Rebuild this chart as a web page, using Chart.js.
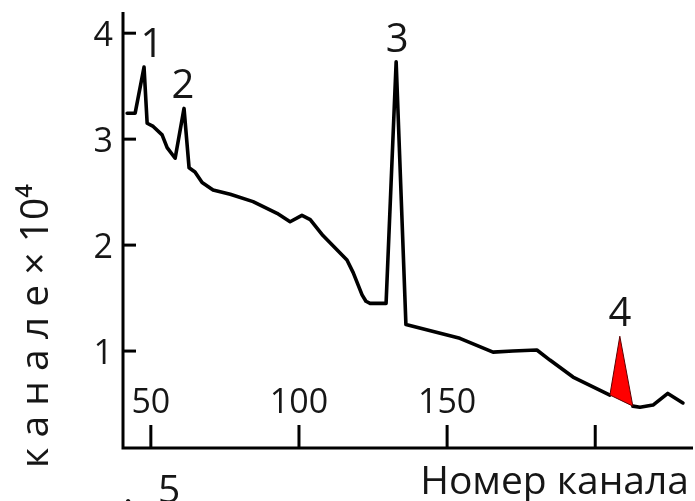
<!DOCTYPE html>
<html>
<head>
<meta charset="utf-8">
<script src="https://cdn.jsdelivr.net/npm/chart.js@4/dist/chart.umd.min.js"></script>
<style>
  html, body { margin: 0; padding: 0; background: #fff; }
  canvas { display: block; }
</style>
</head>
<body>
<canvas id="grafico" width="695" height="501"></canvas>
<script>
// ====================================================================
// DATOS DEL ESPECTRO
// ====================================================================

// Curva principal: numero de canal / cuentas (x 10^4)
const canales = [42.0, 44.7, 47.7, 48.75, 50.8, 53.8, 55.5, 58.2, 61.2, 62.9,
                 64.9, 67.3, 71.0, 76.8, 84.5, 92.6, 97.0, 101.0, 103.8, 108.1,
                 116.2, 118.3, 121.3, 122.6, 124.0, 129.4, 132.8, 136.1, 154.3, 165.5, 172.2,
                 180.3, 184.7, 192.5, 204.95, 212.7, 215.1, 219.5, 224.5, 229.6];
const cuentas = [3.245, 3.245, 3.68, 3.15, 3.12, 3.04, 2.92, 2.82, 3.29, 2.73,
                 2.69, 2.59, 2.52, 2.48, 2.41, 2.30, 2.22, 2.28, 2.24, 2.09,
                 1.86, 1.74, 1.53, 1.47, 1.45, 1.45, 3.73, 1.25, 1.12, 0.99, 1.00,
                 1.01, 0.915, 0.755, 0.585, 0.48, 0.47, 0.49, 0.60, 0.51];

// Pico 4 (triangulo rojo)
const pico4Canales = [204.95, 208.3, 212.7, 204.95];
const pico4Cuentas = [0.585, 1.14, 0.48, 0.585];

// Etiquetas de los picos
const etiquetasPico = ['1', '2', '3', '4'];
const picoCanal = [47.7, 61.2, 132.8, 208.3];
const picoCuentas = [3.68, 3.29, 3.73, 1.14];

// Marcas de los ejes
const ticksX = [50, 100, 150, 200];
const etiquetasX = ['50', '100', '150', ''];
const ticksY = [1, 2, 3, 4];
const etiquetasY = ['1', '2', '3', '4'];

const tituloY = 'к а н а л е × 10⁴';
const tituloX = 'Номер канала';

// ====================================================================
// PLUGIN: ejes con marcas hacia dentro, textos y etiquetas de picos
// ====================================================================
const FUENTE = '"Open Sans", "DejaVu Sans", sans-serif';
const COLOR_TEXTO = '#161616';

const pluginEjes = {
    id: 'ejes',
    afterDraw(chart) {
        const ctx = chart.ctx;
        const area = chart.chartArea;
        const sx = chart.scales.x;
        const sy = chart.scales.y;

        ctx.save();
        ctx.strokeStyle = '#000';
        ctx.lineWidth = 3;
        ctx.lineCap = 'butt';

        // Lineas de los ejes
        ctx.beginPath();
        ctx.moveTo(area.left, area.top);
        ctx.lineTo(area.left, area.bottom);
        ctx.lineTo(area.right, area.bottom);
        ctx.stroke();

        // Marcas del eje Y (hacia la derecha)
        ticksY.forEach(v => {
            const y = sy.getPixelForValue(v);
            ctx.beginPath();
            ctx.moveTo(area.left, y);
            ctx.lineTo(area.left + 13, y);
            ctx.stroke();
        });

        // Marcas del eje X (hacia arriba)
        ticksX.forEach(v => {
            const x = sx.getPixelForValue(v);
            ctx.beginPath();
            ctx.moveTo(x, area.bottom);
            ctx.lineTo(x, area.bottom - 23);
            ctx.stroke();
        });

        ctx.fillStyle = COLOR_TEXTO;
        ctx.textBaseline = 'alphabetic';

        // Etiquetas del eje Y
        ctx.font = '34px ' + FUENTE;
        ctx.textAlign = 'right';
        ticksY.forEach((v, i) => {
            ctx.fillText(etiquetasY[i], area.left - 10, sy.getPixelForValue(v) + 13);
        });

        // Etiquetas del eje X (dentro del grafico, sobre las marcas)
        ctx.textAlign = 'center';
        ticksX.forEach((v, i) => {
            ctx.fillText(etiquetasX[i], sx.getPixelForValue(v), area.bottom - 35);
        });

        // Etiquetas de los picos
        ctx.font = '40px ' + FUENTE;
        const dx = [8, -1, 1, 0];
        etiquetasPico.forEach((t, i) => {
            ctx.fillText(t, sx.getPixelForValue(picoCanal[i]) + dx[i], sy.getPixelForValue(picoCuentas[i]) - 10);
        });

        // Titulo del eje X
        ctx.font = '39px ' + FUENTE;
        ctx.textAlign = 'right';
        ctx.fillText(tituloX, 689, 494);

        // Texto cortado en el borde inferior
        ctx.textAlign = 'left';
        ctx.fillText('.', 123, 504);
        ctx.fillText('5', 158, 503);

        // Titulo del eje Y (rotado)
        ctx.save();
        ctx.translate(48, 326);
        ctx.rotate(-Math.PI / 2);
        ctx.textAlign = 'center';
        ctx.fillText(tituloY, 0, 0);
        ctx.restore();

        ctx.restore();
    }
};

// ====================================================================
// GRAFICO
// ====================================================================
const idxHueco = canales.indexOf(204.95);

const ctx = document.getElementById('grafico').getContext('2d');
new Chart(ctx, {
    type: 'scatter',
    data: {
        datasets: [{
            label: 'pico 4',
            data: pico4Canales.map((c, i) => ({ x: c, y: pico4Cuentas[i] })),
            showLine: true,
            fill: 'shape',
            backgroundColor: '#ff0000',
            borderColor: '#5a0000',
            borderWidth: 1,
            pointRadius: 0,
            tension: 0
        }, {
            label: 'espectro',
            data: canales.map((c, i) => ({ x: c, y: cuentas[i] })),
            showLine: true,
            fill: false,
            borderColor: '#000',
            borderWidth: 3.6,
            borderJoinStyle: 'round',
            borderCapStyle: 'round',
            pointRadius: 0,
            tension: 0,
            segment: {
                borderColor: s => s.p0DataIndex === idxHueco ? 'rgba(0,0,0,0)' : '#000'
            }
        }]
    },
    options: {
        responsive: false,
        devicePixelRatio: 1,
        animation: false,
        layout: {
            padding: { left: 123, top: 12, right: 2, bottom: 53 }
        },
        plugins: {
            legend: { display: false },
            tooltip: { enabled: false }
        },
        scales: {
            x: { type: 'linear', min: 40.6, max: 233, display: false },
            y: { type: 'linear', min: 0.085, max: 4.2, display: false }
        }
    },
    plugins: [pluginEjes]
});
</script>
</body>
</html>
